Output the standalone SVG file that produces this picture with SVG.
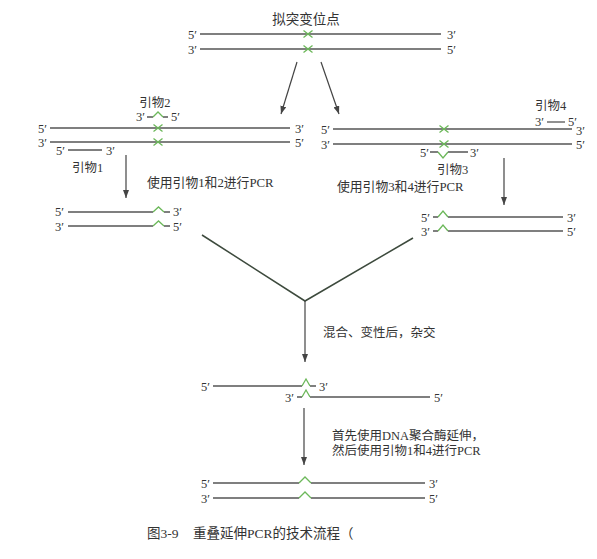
<svg xmlns="http://www.w3.org/2000/svg" width="597" height="559" viewBox="0 0 597 559">
<defs>
<style>
.s{stroke:#555;stroke-width:1.3;fill:none}
.g{stroke:#6cb85a;stroke-width:1.3;fill:none}
.x{stroke:#6cb85a;stroke-width:1.3;fill:none}
.cn{stroke:#444;stroke-width:1.2;fill:none}
.cy{stroke:#3d4a3d;stroke-width:1.5;fill:none}
.p{font-family:"Liberation Serif",serif;font-size:12.5px;fill:#333}
.c{font-family:"Liberation Serif","Noto Sans CJK SC",serif;font-size:12.5px;fill:#333}
.e{text-anchor:end}
.m{text-anchor:middle}
</style>
<marker id="ah" viewBox="0 0 8 6" refX="8" refY="3" markerWidth="8" markerHeight="6" markerUnits="userSpaceOnUse" orient="auto">
<path d="M0,0 L8,3 L0,6 Z" fill="#444"/>
</marker>
<path id="xm" d="M-4.5,-3.5 L4.5,3.5 M4.5,-3.5 L-4.5,3.5"/>
</defs>
<rect width="597" height="559" fill="#fff"/>

<g id="connectors">
<line class="cn" x1="297" y1="62" x2="281" y2="114" marker-end="url(#ah)"/>
<line class="cn" x1="321" y1="62" x2="339" y2="114" marker-end="url(#ah)"/>
<line class="cn" x1="126" y1="155" x2="126" y2="198" marker-end="url(#ah)"/>
<line class="cn" x1="504" y1="158" x2="504" y2="205" marker-end="url(#ah)"/>
<polyline class="cy" points="202,235 305,301 413,238"/>
<line class="cn" x1="305" y1="301" x2="305" y2="362" marker-end="url(#ah)"/>
<line class="cn" x1="304" y1="408" x2="304" y2="465" marker-end="url(#ah)"/>
</g>

<g id="original">
<text class="c m" x="306" y="24" style="font-size:13.5px">拟突变位点</text>
<line class="s" x1="200" y1="34" x2="441" y2="34"/>
<line class="s" x1="200" y1="49" x2="441" y2="49"/>
<use href="#xm" class="x" x="308" y="34"/>
<use href="#xm" class="x" x="308" y="49"/>
<text class="p e" x="197" y="38.5">5′</text>
<text class="p" x="447" y="38.5">3′</text>
<text class="p e" x="197" y="53.5">3′</text>
<text class="p" x="447" y="53.5">5′</text>
</g>

<g id="left-template">
<line class="s" x1="50" y1="128" x2="290" y2="128"/>
<line class="s" x1="50" y1="142" x2="290" y2="142"/>
<use href="#xm" class="x" x="158" y="128"/>
<use href="#xm" class="x" x="158" y="142"/>
<text class="p e" x="47" y="132.5">5′</text>
<text class="p" x="295" y="132.5">3′</text>
<text class="p e" x="47" y="146.5">3′</text>
<text class="p" x="295" y="146.5">5′</text>
</g>

<g id="primer2">
<text class="c m" x="155" y="107">引物2</text>
<text class="p e" x="145" y="121">3′</text>
<path class="s" d="M147,117 H153 M163,117 H168"/>
<path class="g" d="M153,117 L158,112 L163,117"/>
<text class="p" x="171" y="121">5′</text>
</g>

<g id="primer1">
<text class="p e" x="65" y="154.5">5′</text>
<line class="s" x1="68" y1="150" x2="102" y2="150"/>
<text class="p" x="106" y="154.5">3′</text>
<text class="c" x="72" y="172">引物1</text>
</g>

<g id="step-left">
<text class="c" x="147" y="187" style="font-size:12.8px">使用引物1和2进行PCR</text>
</g>

<g id="right-template">
<line class="s" x1="333" y1="129" x2="572" y2="129"/>
<line class="s" x1="333" y1="144" x2="572" y2="144"/>
<use href="#xm" class="x" x="444" y="129"/>
<use href="#xm" class="x" x="444" y="144"/>
<text class="p e" x="330" y="133.5">5′</text>
<text class="p" x="576" y="134.5">3′</text>
<text class="p e" x="330" y="148.5">3′</text>
<text class="p" x="576" y="149">5′</text>
</g>

<g id="primer4">
<text class="c" x="535" y="110">引物4</text>
<text class="p e" x="544" y="126">3′</text>
<line class="s" x1="547" y1="122" x2="565" y2="122"/>
<text class="p" x="568" y="126">5′</text>
</g>

<g id="primer3">
<text class="p e" x="429" y="156.5">5′</text>
<path class="s" d="M430,152 H438 M448,152 H468"/>
<path class="g" d="M438,152 L443,158 L448,152"/>
<text class="p" x="470" y="156.5">3′</text>
<text class="c" x="437" y="174">引物3</text>
</g>

<g id="step-right">
<text class="c" x="337" y="191" style="font-size:12.8px">使用引物3和4进行PCR</text>
</g>

<g id="left-product">
<path class="s" d="M68,212 H153 M164,212 H170 M68,226 H153 M164,226 H170"/>
<path class="g" d="M153,212 L158.5,207 L164,212 M153,226 L158.5,221 L164,226"/>
<text class="p e" x="64" y="216">5′</text>
<text class="p" x="173" y="216">3′</text>
<text class="p e" x="64" y="230.5">3′</text>
<text class="p" x="173" y="230.5">5′</text>
</g>

<g id="right-product">
<path class="s" d="M433,217 H438 M448,217 H563 M433,231 H438 M448,231 H563"/>
<path class="g" d="M438,217 L443,211 L448,217 M438,231 L443,225 L448,231"/>
<text class="p e" x="430" y="221.5">5′</text>
<text class="p" x="567" y="221.5">3′</text>
<text class="p e" x="430" y="235.5">3′</text>
<text class="p" x="567" y="235.5">5′</text>
</g>

<g id="step-mix">
<text class="c" x="323" y="337">混合、变性后，杂交</text>
</g>

<g id="hybrid">
<path class="s" d="M213,386 H302 M310,386 H316 M297,397 H302 M310,397 H430"/>
<path class="g" d="M302,386 L306,379 L310,386 M302,397 L306,390 L310,397"/>
<text class="p e" x="210" y="390.5">5′</text>
<text class="p" x="319" y="390.5">3′</text>
<text class="p e" x="294" y="401.5">3′</text>
<text class="p" x="434" y="401.5">5′</text>
</g>

<g id="step-extend">
<text class="c" x="332" y="440">首先使用DNA聚合酶延伸，</text>
<text class="c" x="332" y="455">然后使用引物1和4进行PCR</text>
</g>

<g id="final-product">
<path class="s" d="M213,483 H299 M311,483 H425 M213,498 H299 M311,498 H425"/>
<path class="g" d="M299,483 L305,477 L311,483 M299,498 L305,492 L311,498"/>
<text class="p e" x="210" y="487.5">5′</text>
<text class="p" x="429" y="487.5">3′</text>
<text class="p e" x="210" y="502.5">3′</text>
<text class="p" x="429" y="502.5">5′</text>
</g>

<g id="caption">
<text class="c" x="147" y="538" style="font-size:13.5px">图3-9</text>
<text class="c" x="193" y="538" style="font-size:13.5px">重叠延伸PCR的技术流程（</text>
</g>
</svg>
